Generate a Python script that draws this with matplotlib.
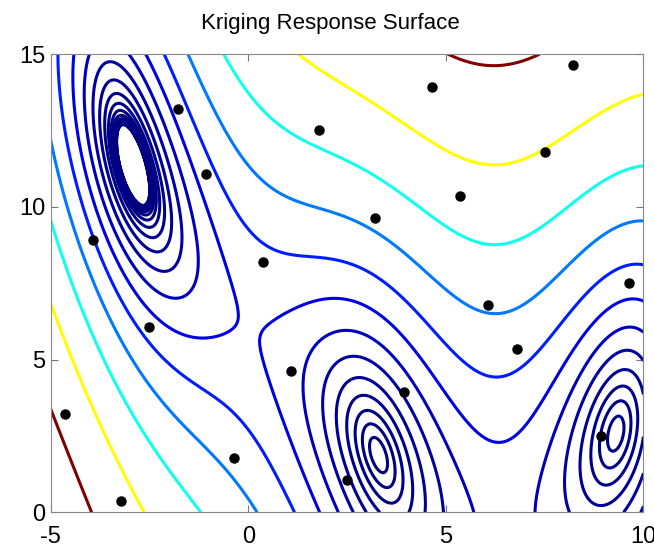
import numpy as np
import matplotlib
matplotlib.use("Agg")
import matplotlib.pyplot as plt
from matplotlib.colors import LinearSegmentedColormap

# sample points (latin hypercube)
px = [-4.64, -3.21, -2.5, -3.93, -1.07, -1.79, -0.36, 0.36, 1.07, 1.79, 2.5,
      3.21, 3.93, 4.64, 5.36, 6.07, 6.79, 7.5, 8.21, 8.93, 9.64]
py = [3.21, 0.36, 6.07, 8.93, 11.07, 13.21, 1.79, 8.21, 4.64, 12.5, 1.07,
      9.64, 3.93, 13.93, 10.36, 6.79, 5.36, 11.79, 14.64, 2.5, 7.5]

x_range = [-5, 10]
y_range = [0, 15]
x_ticks = [-5, 0, 5, 10]
y_ticks = [0, 5, 10, 15]

# kriging correlation parameters (on [0,1] scaled inputs)
theta = np.array([8.0, 0.8])


def branin(x, y):
    # test function sampled at the points
    b, c, t = 5.1 / (4 * np.pi ** 2), 5 / np.pi, 1 / (8 * np.pi)
    return (y - b * x ** 2 + c * x - 6) ** 2 + 10 * (1 - t) * np.cos(x) + 10


def corr(A, B, th):
    d = (A[:, None, :] - B[None, :, :]) ** 2
    return np.exp(-(d * th).sum(axis=2))


# ordinary kriging predictor
X = np.column_stack([(np.array(px) - x_range[0]) / 15, (np.array(py) - y_range[0]) / 15])
yv = branin(np.array(px), np.array(py))
n = len(yv)
one = np.ones(n)
R = corr(X, X, theta) + 1e-10 * np.eye(n)
mu = one @ np.linalg.solve(R, yv) / (one @ np.linalg.solve(R, one))
w = np.linalg.solve(R, yv - mu)

gx = np.linspace(x_range[0], x_range[1], 301)
gy = np.linspace(y_range[0], y_range[1], 301)
GX, GY = np.meshgrid(gx, gy)
G = np.column_stack([(GX.ravel() - x_range[0]) / 15, (GY.ravel() - y_range[0]) / 15])
Z = (mu + corr(G, X, theta) @ w).reshape(GX.shape)

levels = 200 / 1.6 ** np.arange(22)[::-1]

# matlab style jet
mjet = LinearSegmentedColormap.from_list("mjet", [
    (0.0, (0, 0, 0.5)), (0.125, (0, 0, 1)), (0.375, (0, 1, 1)),
    (0.625, (1, 1, 0)), (0.875, (1, 0, 0)), (1.0, (0.5, 0, 0))])

plt.rcParams["font.family"] = ["Liberation Sans", "DejaVu Sans"]
plt.rcParams["axes.unicode_minus"] = False
fig = plt.figure(figsize=(6.54, 5.49), dpi=100)
ax = fig.add_axes([0.0775, 0.0668, 0.9064, 0.8346])
ax.contour(GX, GY, Z, levels=levels, cmap=mjet, vmin=0, vmax=200, linewidths=2.2)
ax.plot(px, py, "o", color="black", markersize=6.5)

ax.set_xlim(x_range)
ax.set_ylim(y_range)
ax.set_xticks(x_ticks)
ax.set_yticks(y_ticks)
ax.tick_params(direction="in", top=True, right=True, labelsize=17, length=5, color="#777777")
ax.tick_params(axis="x", pad=10)
ax.tick_params(axis="y", pad=4)
for sp in ax.spines.values():
    sp.set_color("#888888")
fig.text(0.505, 0.9466, "Kriging Response Surface", fontsize=16, ha="center", va="baseline")

fig.savefig("out.png", dpi=100)
